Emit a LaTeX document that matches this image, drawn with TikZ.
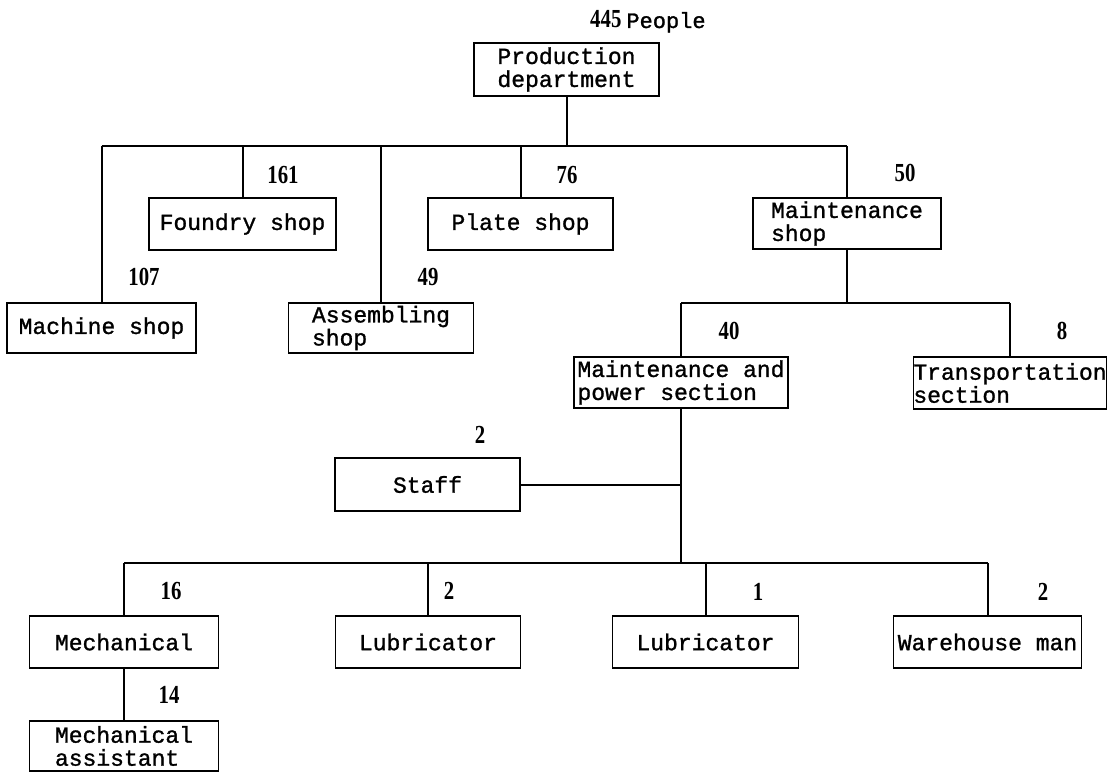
\documentclass[tikz,border=0pt]{standalone}
\usepackage{fontspec}
\setmonofont[FakeBold=1.2]{Liberation Mono}
\newfontfamily\numfont[FakeStretch=0.8]{Liberation Serif}
\begin{document}
\begin{tikzpicture}[x=1pt,y=-1pt,
  box/.style={draw, line width=1.6pt, inner sep=0pt, align=left,
    font=\fontsize{23}{23}\selectfont\ttfamily},
  num/.style={inner sep=0pt, font=\fontsize{26}{26}\selectfont\numfont\bfseries},
  conn/.style={line width=2pt}]
\useasboundingbox (0,0) rectangle (1112,773);
% boxes
\node[box, align=center, minimum width=185pt, minimum height=53pt] (prod) at (566.5,69.5) {Production\\department};
\node[box, minimum width=187pt, minimum height=52pt] (foundry) at (242.5,224) {Foundry shop};
\node[box, minimum width=185pt, minimum height=52pt] (plate) at (520.5,224) {Plate shop};
\node[box, minimum width=188pt, minimum height=51pt] (maint) at (847,223.5) {Maintenance\\shop};
\node[box, minimum width=189pt, minimum height=50pt] (machine) at (101.5,328) {Machine shop};
\node[box, minimum width=185pt, minimum height=50pt] (assem) at (381,328) {Assembling\\shop};
\node[box, minimum width=214pt, minimum height=51pt] (mp) at (681,382.5) {Maintenance and\\power section};
\node[box, minimum width=183pt, minimum height=52pt] (trans) at (1010,383) {Transportation\\section};
\node[box, minimum width=185pt, minimum height=53pt] (staff) at (427.5,484.5) {Staff};
\node[box, minimum width=189pt, minimum height=52pt] (mech) at (124,642) {Mechanical};
\node[box, minimum width=185pt, minimum height=52pt] (lub1) at (428,642) {Lubricator};
\node[box, minimum width=186pt, minimum height=52pt] (lub2) at (705.5,642) {Lubricator};
\node[box, minimum width=188pt, minimum height=52pt] (ware) at (987.5,642) {Warehouse man};
\node[box, minimum width=189pt, minimum height=50pt] (assist) at (124,746) {Mechanical\\assistant};
% buses
\coordinate (b1) at (0,146);
\coordinate (b2) at (0,303);
\coordinate (b3) at (0,563);
\draw[conn] (prod.south) -- (prod.south |- b1);
\draw[conn] (machine.north |- b1) -- (maint.north |- b1);
\foreach \n in {machine,foundry,assem,plate,maint}
  \draw[conn] (\n.north) -- (\n.north |- b1);
\draw[conn] (maint.south) -- (maint.south |- b2);
\draw[conn] (mp.north |- b2) -- (trans.north |- b2);
\foreach \n in {mp,trans}
  \draw[conn] (\n.north) -- (\n.north |- b2);
\draw[conn] (mp.south) -- (mp.south |- b3);
\draw[conn] (staff.east) -- (staff.east -| mp.south);
\draw[conn] (mech.north |- b3) -- (ware.north |- b3);
\foreach \n in {mech,lub1,lub2,ware}
  \draw[conn] (\n.north) -- (\n.north |- b3);
\draw[conn] (mech.south) -- (assist.north);
% labels
\node[anchor=base west, inner sep=0pt] (total) at (590,28) {{\fontsize{26}{26}\selectfont\numfont\bfseries 445}\hspace{5pt}{\fontsize{22}{22}\selectfont\ttfamily People}};
\node[num] (n161) at (283,175) {161};
\node[num] (n76) at (567,175) {76};
\node[num] (n50) at (905,173) {50};
\node[num] (n107) at (144,277) {107};
\node[num] (n49) at (428,277) {49};
\node[num] (n40) at (729,331) {40};
\node[num] (n8) at (1062,331) {8};
\node[num] (n2a) at (480,435) {2};
\node[num] (n16) at (171,591) {16};
\node[num] (n2b) at (449,591) {2};
\node[num] (n1) at (758,592) {1};
\node[num] (n2c) at (1043,592) {2};
\node[num] (n14) at (169,695) {14};
\end{tikzpicture}
\end{document}
